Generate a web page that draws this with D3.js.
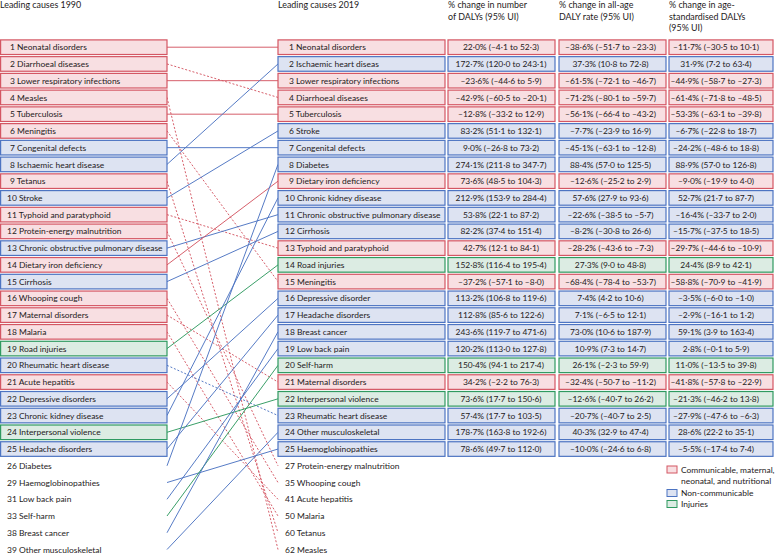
<!DOCTYPE html>
<html><head><meta charset="utf-8">
<script src="https://cdn.jsdelivr.net/npm/d3@7"></script>
<style>
body{margin:0;background:#fff;}
text{font-family:Lato,"Open Sans",sans-serif;fill:#1e1a1b;}
</style></head>
<body><svg id="c" width="776" height="555"></svg>
<script>
// ---- data ----
const names1990 = ["Neonatal disorders","Diarrhoeal diseases","Lower respiratory infections","Measles","Tuberculosis","Meningitis","Congenital defects","Ischaemic heart disease","Tetanus","Stroke","Typhoid and paratyphoid","Protein-energy malnutrition","Chronic obstructive pulmonary disease","Dietary iron deficiency","Cirrhosis","Whooping cough","Maternal disorders","Malaria","Road injuries","Rheumatic heart disease","Acute hepatitis","Depressive disorders","Chronic kidney disease","Interpersonal violence","Headache disorders","Diabetes","Haemoglobinopathies","Low back pain","Self-harm","Breast cancer","Other musculoskeletal"];
const ranks1990 = [1,2,3,4,5,6,7,8,9,10,11,12,13,14,15,16,17,18,19,20,21,22,23,24,25,26,29,31,33,38,39];
const groups1990 = ["C","C","C","C","C","C","N","N","C","N","C","C","N","C","N","C","C","C","I","N","C","N","N","I","N","N","N","N","I","N","N"];
const rankIn2019 = [1,4,3,62,5,15,7,2,60,6,13,27,11,9,12,35,21,50,14,23,41,16,10,22,17,8,25,19,20,18,24];

const names2019 = ["Neonatal disorders","Ischaemic heart diseas","Lower respiratory infections","Diarrhoeal diseases","Tuberculosis","Stroke","Congenital defects","Diabetes","Dietary iron deficiency","Chronic kidney disease","Chronic obstructive pulmonary disease","Cirrhosis","Typhoid and paratyphoid","Road injuries","Meningitis","Depressive disorder","Headache disorders","Breast cancer","Low back pain","Self-harm","Maternal disorders","Interpersonal violence","Rheumatic heart disease","Other musculoskeletal","Haemoglobinopathies","Protein-energy malnutrition","Whooping cough","Acute hepatitis","Malaria","Tetanus","Measles"];
const ranks2019 = [1,2,3,4,5,6,7,8,9,10,11,12,13,14,15,16,17,18,19,20,21,22,23,24,25,27,35,41,50,60,62];
const groups2019 = ["C","N","C","C","C","N","N","N","C","N","N","N","C","I","C","N","N","N","N","I","C","I","N","N","N","C","C","C","C","C","C"];

const changeNumber = ["22·0% (–4·1 to 52·3)","172·7% (120·0 to 243·1)","–23·6% (–44·6 to 5·9)","–42·9% (–60·5 to –20·1)","–12·8% (–33·2 to 12·9)","83·2% (51·1 to 132·1)","9·0% (–26·8 to 73·2)","274·1% (211·8 to 347·7)","73·6% (48·5 to 104·3)","212·9% (153·9 to 284·4)","53·8% (22·1 to 87·2)","82·2% (37·4 to 151·4)","42·7% (12·1 to 84·1)","152·8% (116·4 to 195·4)","–37·2% (–57·1 to –8·0)","113·2% (106·8 to 119·6)","112·8% (85·6 to 122·6)","243·6% (119·7 to 471·6)","120·2% (113·0 to 127·8)","150·4% (94·1 to 217·4)","34·2% (–2·2 to 76·3)","73·6% (17·7 to 150·6)","57·4% (17·7 to 103·5)","178·7% (163·8 to 192·6)","78·6% (49·7 to 112·0)"];
const changeRate = ["–38·6% (–51·7 to –23·3)","37·3% (10·8 to 72·8)","–61·5% (–72·1 to –46·7)","–71·2% (–80·1 to –59·7)","–56·1% (–66·4 to –43·2)","–7·7% (–23·9 to 16·9)","–45·1% (–63·1 to –12·8)","88·4% (57·0 to 125·5)","–12·6% (–25·2 to 2·9)","57·6% (27·9 to 93·6)","–22·6% (–38·5 to –5·7)","–8·2% (–30·8 to 26·6)","–28·2% (–43·6 to –7·3)","27·3% (9·0 to 48·8)","–68·4% (–78·4 to –53·7)","7·4% (4·2 to 10·6)","7·1% (–6·5 to 12·1)","73·0% (10·6 to 187·9)","10·9% (7·3 to 14·7)","26·1% (–2·3 to 59·9)","–32·4% (–50·7 to –11·2)","–12·6% (–40·7 to 26·2)","–20·7% (–40·7 to 2·5)","40·3% (32·9 to 47·4)","–10·0% (–24·6 to 6·8)"];
const changeAgeStd = ["–11·7% (–30·5 to 10·1)","31·9% (7·2 to 63·4)","–44·9% (–58·7 to –27·3)","–61·4% (–71·8 to –48·5)","–53·3% (–63·1 to –39·8)","–6·7% (–22·8 to 18·7)","–24·2% (–48·6 to 18·8)","88·9% (57·0 to 126·8)","–9·0% (–19·9 to 4·0)","52·7% (21·7 to 87·7)","–16·4% (–33·7 to 2·0)","–15·7% (–37·5 to 18·5)","–29·7% (–44·6 to –10·9)","24·4% (8·9 to 42·1)","–58·8% (–70·9 to –41·9)","–3·5% (–6·0 to –1·0)","–2·9% (–16·1 to 1·2)","59·1% (3·9 to 163·4)","2·8% (–0·1 to 5·9)","11·0% (–13·5 to 39·8)","–41·8% (–57·8 to –22·9)","–21·3% (–46·2 to 13·8)","–27·9% (–47·6 to –6·3)","28·6% (22·2 to 35·1)","–5·5% (–17·4 to 7·4)"];

const groupKeys = ["C","N","I"];
const groupLabels = [["Communicable, maternal,","neonatal, and nutritional"],["Non-communicable"],["Injuries"]];
const headers = [["Leading causes 1990"],["Leading causes 2019"],["% change in number","of DALYs (95% UI)"],["% change in all-age","DALY rate (95% UI)"],["% change in age-","standardised DALYs","(95% UI)"]];

// ---- styles ----
const fill = d3.scaleOrdinal().domain(groupKeys).range(["#f8dfe2","#dde3f2","#dcece3"]);
const stroke = d3.scaleOrdinal().domain(groupKeys).range(["#d45663","#4d74c2","#2f9a60"]);
const FS = 8.45;
const HFS = 8.9;
const TOP = 25; // boxed rows

const svg = d3.select("#c");
const y = d3.scaleLinear().domain([0, 30]).range([47.2, 549.5]);
const BH = 14.6;

const colX = d3.scaleOrdinal().domain(["l","m","c3","c4","c5"]).range([[0.6,167],[278,445],[448,555],[559,666],[669,773]]);
const textCenter = {c3:501, c4:610.5, c5:716};

function rowIndex2019(r){ return ranks2019.indexOf(r); }

// headers
const hx = [0, 278, 448, 559, 669];
headers.forEach((lines,i)=>{
  const t = svg.append("text").style("font-size",HFS+"px");
  lines.forEach((l,j)=> t.append("tspan").attr("x",hx[i]).attr("y",8.3+j*11.4).text(l));
});

// links
const gLinks = svg.append("g");
names1990.forEach((n,i)=>{
  const r2 = rankIn2019[i];
  const j = rowIndex2019(r2);
  const dashed = r2 > ranks1990[i];
  gLinks.append("line")
    .attr("x1",167).attr("y1",y(i))
    .attr("x2",278).attr("y2",y(j))
    .attr("stroke",stroke(groups1990[i]))
    .attr("stroke-width",0.95)
    .attr("stroke-dasharray",dashed?"2,1.8":null);
});

function drawBox(x0,x1,cy,g){
  svg.append("rect").attr("x",x0).attr("y",cy-BH/2).attr("width",x1-x0).attr("height",BH)
    .attr("fill",fill(g)).attr("stroke",stroke(g)).attr("stroke-width",1.2);
}

// 1990 column
names1990.forEach((n,i)=>{
  const cy = y(i);
  if(i<TOP) drawBox(...colX("l"),cy,groups1990[i]);
  svg.append("text").attr("x",ranks1990[i]<10?10:7).attr("y",cy+3.1).style("font-size",FS+"px")
    .text(ranks1990[i]+" "+n);
});
// 2019 column + stats
names2019.forEach((n,i)=>{
  const cy = y(i);
  if(i<TOP){
    drawBox(...colX("m"),cy,groups2019[i]);
    drawBox(...colX("c3"),cy,groups2019[i]);
    drawBox(...colX("c4"),cy,groups2019[i]);
    drawBox(...colX("c5"),cy,groups2019[i]);
    [["c3",changeNumber],["c4",changeRate],["c5",changeAgeStd]].forEach(([k,arr])=>{
      svg.append("text").attr("x",textCenter[k]).attr("y",cy+3.1).attr("text-anchor","middle")
        .style("font-size",FS+"px").text(arr[i]);
    });
  }
  svg.append("text").attr("x",ranks2019[i]<10?289:285).attr("y",cy+3.1).style("font-size",FS+"px")
    .text(ranks2019[i]+" "+n);
});

// legend
const legY = [469.5, 493, 504];
groupKeys.forEach((k,i)=>{
  svg.append("rect").attr("x",667).attr("y",legY[i]-3.5).attr("width",10).attr("height",7)
    .attr("fill",fill(k)).attr("stroke",stroke(k)).attr("stroke-width",1);
  groupLabels[i].forEach((l,j)=>{
    svg.append("text").attr("x",681).attr("y",legY[i]+3+j*11.5).style("font-size",FS+"px").text(l);
  });
});
</script></body></html>
